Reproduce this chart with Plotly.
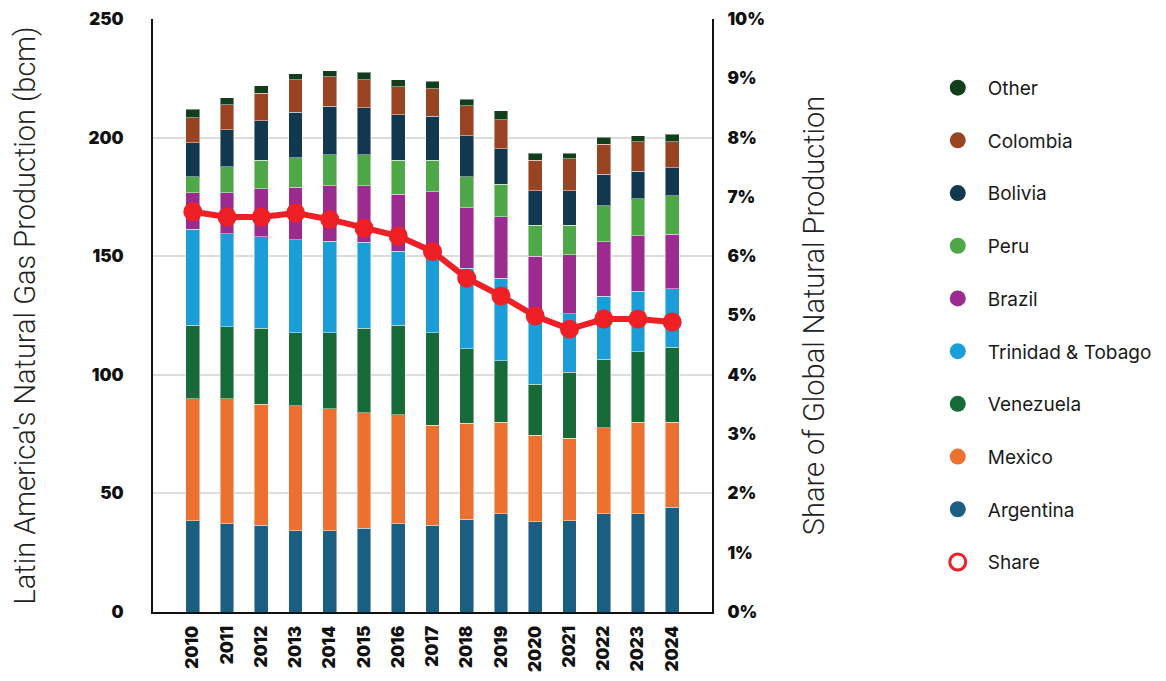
import plotly.graph_objects as go

years = [str(y) for y in range(2010, 2025)]

argentina = [38.4, 37.3, 36.6, 34.2, 34.2, 35.3, 37.3, 36.6, 39.1, 41.5, 38.0, 38.4, 41.5, 41.5, 44.1]
mexico = [51.6, 52.7, 51.0, 52.7, 51.5, 48.6, 45.9, 42.2, 40.4, 38.6, 36.6, 34.9, 36.2, 38.6, 36.0]
venezuela = [30.9, 30.2, 32.0, 30.9, 32.1, 35.7, 37.7, 39.0, 31.4, 25.8, 21.5, 27.7, 28.8, 29.6, 31.5]
trinidad = [40.4, 39.2, 38.6, 39.1, 38.4, 36.2, 31.1, 33.3, 34.0, 34.8, 28.1, 24.8, 26.7, 25.5, 24.7]
brazil = [15.4, 17.3, 20.3, 22.2, 23.6, 24.0, 24.1, 26.1, 25.6, 26.0, 25.8, 24.8, 22.9, 23.4, 23.0]
peru = [6.8, 11.1, 11.9, 12.4, 13.0, 13.0, 14.3, 13.2, 13.0, 13.7, 13.1, 12.5, 15.1, 15.6, 16.1]
bolivia = [14.3, 15.5, 16.7, 19.2, 20.5, 19.8, 19.2, 18.5, 17.3, 14.8, 14.6, 14.6, 13.4, 11.7, 11.8]
colombia = [10.5, 10.6, 11.7, 13.7, 12.4, 11.8, 11.9, 11.7, 12.6, 12.4, 12.7, 13.3, 12.6, 12.4, 11.1]
other = [3.7, 3.0, 3.1, 2.6, 2.4, 3.1, 2.9, 3.1, 2.8, 3.7, 2.9, 2.3, 2.9, 2.5, 3.1]
share = [6.75, 6.66, 6.66, 6.73, 6.62, 6.47, 6.34, 6.08, 5.63, 5.33, 4.99, 4.77, 4.94, 4.94, 4.89]

left_ticks = [0, 50, 100, 150, 200, 250]
right_ticks = list(range(0, 11))
right_labels = [f"{v}%" for v in right_ticks]

series = [
    ("Argentina", argentina, "#1a5f81"),
    ("Mexico", mexico, "#ec7131"),
    ("Venezuela", venezuela, "#176b38"),
    ("Trinidad & Tobago", trinidad, "#1b9dd7"),
    ("Brazil", brazil, "#9c2b8f"),
    ("Peru", peru, "#4fa848"),
    ("Bolivia", bolivia, "#12384f"),
    ("Colombia", colombia, "#984322"),
    ("Other", other, "#133e1c"),
]
share_color = "#ee2026"

fig = go.Figure()
for name, vals, col in series:
    fig.add_trace(go.Bar(
        x=years, y=vals, name=name, marker_color=col,
        marker_line=dict(color="rgba(255,255,255,0.45)", width=1),
        showlegend=False, yaxis="y",
    ))

fig.add_trace(go.Scatter(
    x=years, y=share, name="Share", yaxis="y2", mode="lines+markers",
    line=dict(color=share_color, width=6),
    marker=dict(color=share_color, size=19),
    showlegend=False,
))

# legend entries (circles)
for name, vals, col in reversed(series):
    fig.add_trace(go.Scatter(
        x=[None], y=[None], name=name, mode="markers",
        marker=dict(symbol="circle", color=col, size=16),
        legendgroup=name, showlegend=True,
    ))
fig.add_trace(go.Scatter(
    x=[None], y=[None], name="Share", mode="markers",
    marker=dict(symbol="circle-open", color=share_color, size=16, line=dict(width=3)),
    legendgroup="Share", showlegend=True,
))

tick_font = dict(family="Inter, Arial, sans-serif", size=17, color="#111", weight=900)
title_font = dict(family="Roboto, Arial, sans-serif", size=29, color="#222", weight=300)

fig.update_layout(
    width=1166, height=681,
    margin=dict(l=145, r=462, t=11, b=77, autoexpand=False),
    paper_bgcolor="white", plot_bgcolor="white",
    barmode="stack", bargap=0.6,
    xaxis=dict(
        type="category", tickangle=-90, tickfont=tick_font,
        showline=True, linecolor="#111", linewidth=2, showgrid=False,
        ticks="", ticklabelstandoff=5, automargin=False,
    ),
    yaxis=dict(
        range=[0, 250], tickvals=left_ticks, tickfont=tick_font,
        showline=True, linecolor="#111", linewidth=2,
        showgrid=True, gridcolor="#dcdcdc", gridwidth=2,
        zeroline=False, ticks="", ticklabelstandoff=24, automargin=False,
        title=dict(text="Latin America's Natural Gas Production (bcm)", font=title_font, standoff=46),
    ),
    yaxis2=dict(
        range=[0, 10], tickvals=right_ticks, ticktext=right_labels, tickfont=tick_font,
        overlaying="y", side="right",
        showline=True, linecolor="#111", linewidth=2, showgrid=False, zeroline=False,
        ticks="", ticklabelstandoff=10, automargin=False,
        title=dict(text="Share of Global Natural Production", font=title_font, standoff=40),
    ),
    legend=dict(
        x=1.386, xanchor="left", y=0.916, yanchor="top",
        font=dict(family="Inter, Arial, sans-serif", size=19, color="#1a1a1a"),
        traceorder="grouped", tracegroupgap=25, itemsizing="trace", itemwidth=50,
        bgcolor="rgba(0,0,0,0)",
    ),
    showlegend=True,
)

fig.write_html("out.html")
